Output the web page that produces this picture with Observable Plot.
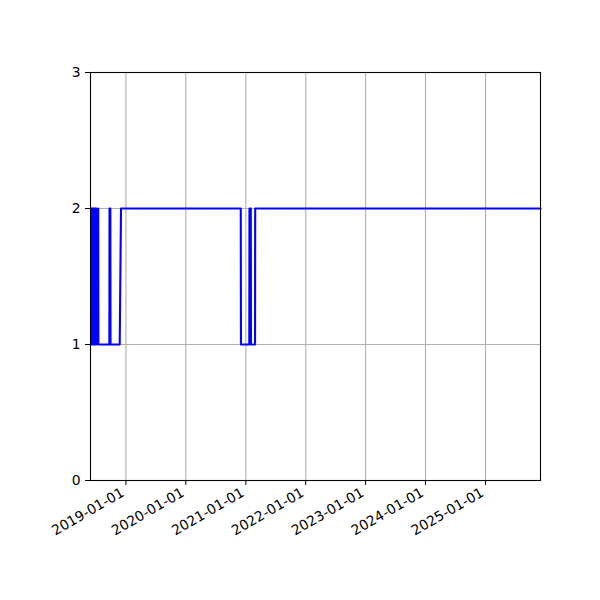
<!DOCTYPE html>
<html>
<head>
<meta charset="utf-8">
<script src="https://cdn.jsdelivr.net/npm/d3@7"></script>
<script src="https://cdn.jsdelivr.net/npm/@observablehq/plot@0.6"></script>
<style>
  html, body { margin: 0; padding: 0; background: #fff; }
  #chart { width: 600px; height: 600px; }
  svg { font-family: "DejaVu Sans", sans-serif; }
</style>
</head>
<body>
<div id="chart"></div>
<script>
// Change points of the series (value held between points, linear joins)
const dates = [
  "2018-06-02","2018-06-04","2018-06-05","2018-06-07","2018-06-08","2018-06-10","2018-06-11",
  "2018-06-13","2018-06-14","2018-06-16","2018-06-17","2018-06-19","2018-06-20","2018-06-22",
  "2018-06-23","2018-06-25","2018-06-26","2018-06-28","2018-06-29","2018-07-01","2018-07-02",
  "2018-07-04","2018-07-05","2018-07-16","2018-07-17",
  "2018-09-22","2018-09-23","2018-09-28","2018-09-29",
  "2018-11-24","2018-12-02",
  "2020-12-01","2020-12-02",
  "2021-01-22","2021-01-23","2021-01-31","2021-02-01",
  "2021-02-26","2021-02-27",
  "2025-12-02"
];
const values = [
  2,2,1,1,2,2,1,
  1,2,2,1,1,2,2,
  1,1,2,2,1,1,2,
  2,1,2,1,
  1,2,2,1,
  1,2,
  2,1,
  1,2,2,1,
  1,2,
  2
];
const yTicks = [0, 1, 2, 3];
const xTickLabels = ["2019-01-01","2020-01-01","2021-01-01","2022-01-01","2023-01-01","2024-01-01","2025-01-01"];
const xDomain = ["2018-05-30", "2025-12-02"];

const data = dates.map((d, i) => ({date: new Date(d + "T00:00:00Z"), value: values[i]}));
const xTicks = xTickLabels.map(d => new Date(d + "T00:00:00Z"));

const chart = Plot.plot({
  width: 600,
  height: 600,
  marginLeft: 90,
  marginRight: 60,
  marginTop: 72,
  marginBottom: 120,
  style: {fontFamily: "DejaVu Sans, sans-serif", fontSize: "13.9px", color: "black", background: "white"},
  x: {type: "utc", domain: xDomain.map(d => new Date(d + "T00:00:00Z"))},
  y: {domain: [0, 3]},
  marks: [
    Plot.gridX(xTicks, {stroke: "#b0b0b0", strokeOpacity: 1, strokeWidth: 1.1}),
    Plot.gridY(yTicks, {stroke: "#b0b0b0", strokeOpacity: 1, strokeWidth: 1.1}),
    Plot.line(data, {x: "date", y: "value", stroke: "#0000ff", strokeWidth: 2.1, curve: "linear"}),
    Plot.frame({stroke: "black", strokeWidth: 1.1}),
    Plot.axisX(xTicks, {
      tickFormat: d3.utcFormat("%Y-%m-%d"),
      tickSize: 5, tickPadding: 4,
      tickRotate: -30, textAnchor: "end",
      label: null, fontSize: 13.9, fill: "black",
      text: null
    }),
    Plot.axisX(xTicks, {
      tickFormat: d3.utcFormat("%Y-%m-%d"),
      tickSize: 0, tickPadding: 9,
      tickRotate: -30, textAnchor: "end",
      label: null, fontSize: 13.9, fill: "black",
      dx: -3, dy: 2
    }),
    Plot.axisY(yTicks, {
      tickFormat: d => String(d),
      tickSize: 5, tickPadding: 5,
      label: null, fontSize: 13.9, fill: "black"
    })
  ]
});
document.getElementById("chart").appendChild(chart);
</script>
</body>
</html>
